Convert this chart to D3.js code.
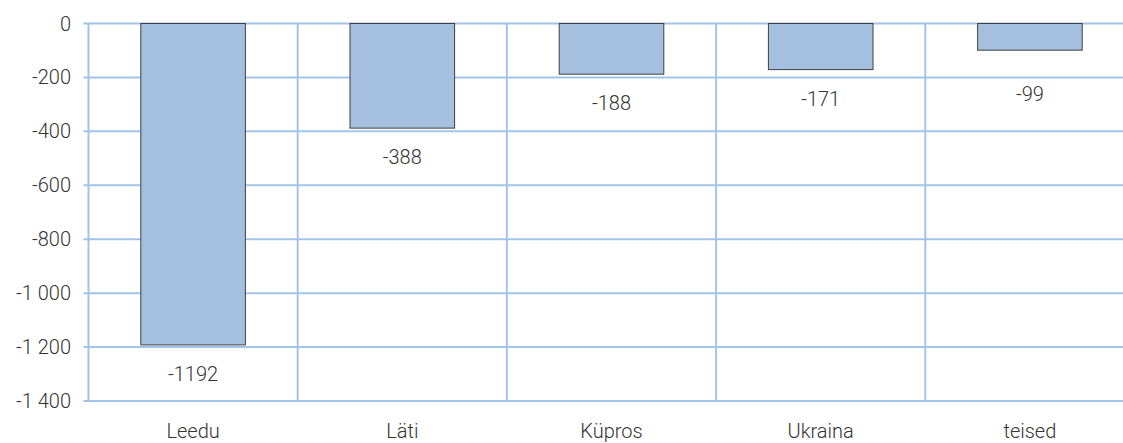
<!DOCTYPE html>
<html>
<head>
<meta charset="utf-8">
<script src="https://cdn.jsdelivr.net/npm/d3@7"></script>
<style>
  body { margin: 0; background: #fff; }
  text { font-family: Roboto, "Open Sans", sans-serif; font-weight: 300; fill: #333; }
</style>
</head>
<body>
<div id="chart"></div>
<script>
var categories = ["Leedu", "Läti", "Küpros", "Ukraina", "teised"];
var values = [-1192, -388, -188, -171, -99];
var yTicks = [0, -200, -400, -600, -800, -1000, -1200, -1400];

var width = 1123, height = 443;
var plotLeft = 88.5, plotTop = 23.5, plotBottom = 401;
var bandW = 209.2;
var fontSize = 20;

var svg = d3.select("#chart").append("svg").attr("width", width).attr("height", height);

var x = d3.scaleBand().domain(categories).range([plotLeft, plotLeft + bandW * categories.length]).paddingInner(0).paddingOuter(0);
var y = d3.scaleLinear().domain([0, -1400]).range([plotTop, plotBottom]);

var gridColor = "#a3c4ea";

// horizontal grid + tick stubs
svg.selectAll(".hgrid").data(yTicks).enter().append("line")
    .attr("class", "hgrid")
    .attr("x1", plotLeft - 5).attr("x2", width)
    .attr("y1", function (d) { return y(d); }).attr("y2", function (d) { return y(d); })
    .attr("stroke", gridColor).attr("stroke-width", 2);

// vertical grid at category boundaries
var bounds = categories.map(function (c) { return x(c); }).concat([x(categories[categories.length - 1]) + x.bandwidth()]);
svg.selectAll(".vgrid").data(bounds).enter().append("line")
    .attr("class", "vgrid")
    .attr("x1", function (d) { return d; }).attr("x2", function (d) { return d; })
    .attr("y1", plotTop).attr("y2", plotBottom)
    .attr("stroke", gridColor).attr("stroke-width", 2);

// y tick labels
svg.selectAll(".ylab").data(yTicks).enter().append("text")
    .attr("class", "ylab")
    .attr("x", 71).attr("y", function (d) { return y(d); })
    .attr("dy", "0.35em").attr("text-anchor", "end").attr("font-size", fontSize)
    .text(function (d) { return d3.format(",")(d).replace(/,/g, " ").replace("−", "-"); });

// bars
var barW = x.bandwidth() * 0.5;
svg.selectAll(".bar").data(values).enter().append("rect")
    .attr("class", "bar")
    .attr("x", function (d, i) { return x(categories[i]) + (x.bandwidth() - barW) / 2; })
    .attr("y", y(0))
    .attr("width", barW)
    .attr("height", function (d) { return y(d) - y(0); })
    .attr("fill", "#a5bfdf").attr("stroke", "#404040").attr("stroke-width", 1);

// value labels (kept clear of the -200 gridline)
svg.selectAll(".vlab").data(values).enter().append("text")
    .attr("class", "vlab")
    .attr("x", function (d, i) { return x(categories[i]) + x.bandwidth() / 2; })
    .attr("y", function (d) { return Math.max(y(d) + 29, y(-200) + 17); })
    .attr("dy", "0.35em").attr("text-anchor", "middle").attr("font-size", fontSize)
    .text(function (d) { return String(d); });

// category labels
svg.selectAll(".xlab").data(categories).enter().append("text")
    .attr("class", "xlab")
    .attr("x", function (d) { return x(d) + x.bandwidth() / 2; })
    .attr("y", 431)
    .attr("dy", "0.35em").attr("text-anchor", "middle").attr("font-size", fontSize)
    .text(function (d) { return d; });
</script>
</body>
</html>
